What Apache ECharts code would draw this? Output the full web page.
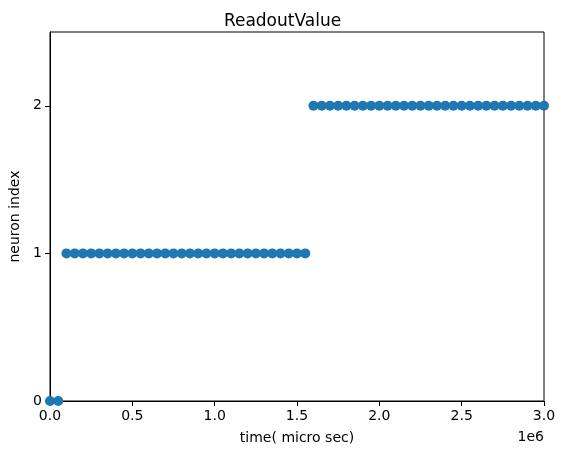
<!DOCTYPE html>
<html>
<head>
<meta charset="utf-8">
<script src="https://cdn.jsdelivr.net/npm/echarts@6/dist/echarts.min.js"></script>
<style>
  html, body { margin: 0; padding: 0; background: #fff; }
  #chart { width: 565px; height: 455px; }
</style>
</head>
<body>
<div id="chart"></div>
<script>
// readout samples, time in micro sec
const level0Times = [0, 50000];
const level1Times = [100000, 150000, 200000, 250000, 300000, 350000, 400000, 450000, 500000, 550000,
  600000, 650000, 700000, 750000, 800000, 850000, 900000, 950000, 1000000, 1050000,
  1100000, 1150000, 1200000, 1250000, 1300000, 1350000, 1400000, 1450000, 1500000, 1550000];
const level2Times = [1600000, 1650000, 1700000, 1750000, 1800000, 1850000, 1900000, 1950000, 2000000,
  2050000, 2100000, 2150000, 2200000, 2250000, 2300000, 2350000, 2400000, 2450000, 2500000,
  2550000, 2600000, 2650000, 2700000, 2750000, 2800000, 2850000, 2900000, 2950000, 3000000];
const neuronLevels = [0, 1, 2];
const yTicks = [0, 1, 2];

const points = [];
[level0Times, level1Times, level2Times].forEach((times, i) => {
  times.forEach(t => points.push([t, neuronLevels[i]]));
});

const font = 'DejaVu Sans';
const chart = echarts.init(document.getElementById('chart'), null, { renderer: 'canvas' });

chart.setOption({
  animation: false,
  textStyle: { fontFamily: font },
  title: {
    text: 'ReadoutValue',
    left: 'center',
    top: 8,
    textStyle: { fontFamily: font, fontSize: 17, fontWeight: 'normal', color: '#000' },
  },
  grid: {
    left: 49, right: 21, top: 32, bottom: 54,
    show: true, borderColor: '#000', borderWidth: 1, backgroundColor: 'transparent',
  },
  xAxis: {
    type: 'value',
    min: 0,
    max: 3000000,
    interval: 500000,
    name: 'time( micro sec)',
    nameLocation: 'middle',
    nameGap: 30,
    nameTextStyle: { fontFamily: font, fontSize: 14, color: '#000' },
    axisLine: { show: true, onZero: false, lineStyle: { color: '#000', width: 1 } },
    axisTick: { show: true, length: 5, inside: false, lineStyle: { color: '#000' } },
    axisLabel: {
      color: '#000', fontSize: 14, fontFamily: font, margin: 8,
      formatter: v => (v / 1e6).toFixed(1),
    },
    splitLine: { show: false },
  },
  yAxis: {
    type: 'value',
    min: 0,
    max: 2.5,
    name: 'neuron index',
    nameLocation: 'middle',
    nameGap: 28,
    nameTextStyle: { fontFamily: font, fontSize: 14, color: '#000' },
    axisLine: { show: true, lineStyle: { color: '#000', width: 1 } },
    axisTick: { show: true, length: 5, customValues: yTicks, lineStyle: { color: '#000' } },
    axisLabel: {
      color: '#000', fontSize: 14, fontFamily: font, margin: 8,
      customValues: yTicks,
      formatter: v => String(v),
    },
    splitLine: { show: false },
  },
  graphic: [{
    type: 'text',
    right: 21,
    top: 430,
    style: { text: '1e6', font: '14px "DejaVu Sans"', fill: '#000' },
  }],
  series: [{
    type: 'scatter',
    data: points,
    symbol: 'circle',
    symbolSize: 10,
    itemStyle: { color: '#1f77b4', opacity: 1 },
    clip: false,
  }],
});
</script>
</body>
</html>
